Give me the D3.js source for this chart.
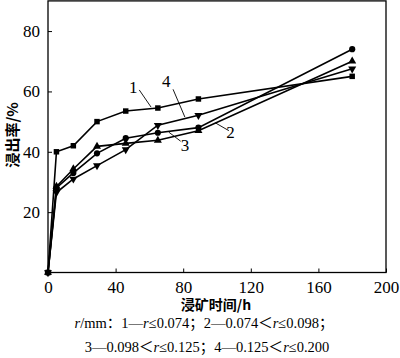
<!DOCTYPE html>
<html><head><meta charset="utf-8">
<script src="https://cdn.jsdelivr.net/npm/d3@7/dist/d3.min.js"></script>
<style>body{margin:0;background:#fff}svg{display:block}</style>
</head><body>
<svg id="c" width="400" height="358"></svg>
<script>
const times = [0, 5, 15, 29, 46, 65, 89, 180];
const series1 = [0, 40, 42, 50, 53.5, 54.5, 57.5, 65];   // squares
const series2 = [0, 28, 33, 39.5, 44.5, 46.3, 48, 74];   // circles
const series3 = [0, 28.5, 34.3, 41.8, 42.8, 43.8, 47, 70]; // triangles up
const series4 = [0, 26.5, 31, 35.4, 40.7, 48.8, 52.1, 67.5]; // triangles down
const xTicks = [0, 40, 80, 120, 160, 200];
const yTicks = [20, 40, 60, 80];
const curveLabels = ["1", "2", "3", "4"];

const svg = d3.select("#c");
const x = d3.scaleLinear().domain([0, 200]).range([48, 386]);
const y = d3.scaleLinear().domain([0, 90]).range([272.5, 0.9]);
const serif = "'Liberation Serif','Times New Roman',serif";
const cjk = "'Noto Sans CJK SC',sans-serif";

// frame
svg.append("rect").attr("x", x(0)).attr("y", y(90)).attr("width", x(200) - x(0)).attr("height", y(0) - y(90))
  .attr("fill", "none").attr("stroke", "#000").attr("stroke-width", 1.3);

// axes with inward ticks
const xAxis = d3.axisBottom(x).tickValues(xTicks).tickSize(-4).tickPadding(8).tickFormat(d3.format("d"));
const gx = svg.append("g").attr("transform", `translate(0,${y(0)})`).call(xAxis);
gx.select(".domain").remove();
gx.selectAll("line").attr("stroke", "#000").attr("stroke-width", 1);
gx.selectAll("text").attr("font-family", serif).attr("font-size", 17).attr("fill", "#000").attr("dy", "0.72em");

const yAxis = d3.axisLeft(y).tickValues(yTicks).tickSize(-4).tickPadding(8).tickFormat(d3.format("d"));
const gy = svg.append("g").attr("transform", `translate(${x(0)},0)`).call(yAxis);
gy.select(".domain").remove();
gy.selectAll("line").attr("stroke", "#000").attr("stroke-width", 1);
gy.selectAll("text").attr("font-family", serif).attr("font-size", 17).attr("fill", "#000");

// lines
const allSeries = [
  {vals: series1, sym: d3.symbolSquare, size: 30, rot: 0},
  {vals: series2, sym: d3.symbolCircle, size: 30, rot: 0},
  {vals: series3, sym: d3.symbolTriangle, size: 28, rot: 0},
  {vals: series4, sym: d3.symbolTriangle, size: 28, rot: 180},
];
const line = d3.line().x(d => x(d[0])).y(d => y(d[1]));
allSeries.forEach(s => {
  const pts = times.map((t, i) => [t, s.vals[i]]);
  svg.append("path").attr("d", line(pts)).attr("fill", "none").attr("stroke", "#000").attr("stroke-width", 1.6);
  svg.selectAll(null).data(pts).enter().append("path")
    .attr("d", d3.symbol().type(s.sym).size(s.size))
    .attr("transform", d => `translate(${x(d[0])},${y(d[1])}) rotate(${s.rot})`)
    .attr("fill", "#000");
});

// curve labels with leader lines
const labelPos = [
  {t: curveLabels[0], lx: 50.5, ly: 59.5, a: [54, 60.5], b: [61, 54.8]},
  {t: curveLabels[1], lx: 108, ly: 44.5, a: [107, 47], b: [99, 49.6]},
  {t: curveLabels[2], lx: 81, ly: 40.3, a: [78.5, 43.5], b: [71.5, 46.5]},
  {t: curveLabels[3], lx: 70, ly: 61.5, a: [74, 60.7], b: [81, 51.5]},
];
labelPos.forEach(l => {
  svg.append("text").attr("x", x(l.lx)).attr("y", y(l.ly)).attr("text-anchor", "middle")
    .attr("font-family", serif).attr("font-size", 17).text(l.t);
  svg.append("line").attr("x1", x(l.a[0])).attr("y1", y(l.a[1])).attr("x2", x(l.b[0])).attr("y2", y(l.b[1]))
    .attr("stroke", "#000").attr("stroke-width", 0.9);
});

// axis titles
svg.append("text").attr("transform", "translate(18,135) rotate(-90)").attr("text-anchor", "middle")
  .attr("font-family", cjk).attr("font-size", 15).attr("font-weight", "bold").text("浸出率/%");
svg.append("text").attr("x", 216).attr("y", 310).attr("text-anchor", "middle")
  .attr("font-family", cjk).attr("font-size", 14).attr("font-weight", "bold").text("浸矿时间/h");

// legend text
const legFont = "'Liberation Serif','Noto Sans CJK SC',serif";
const leg1 = svg.append("text").attr("x", 204).attr("y", 328).attr("text-anchor", "middle")
  .attr("font-family", legFont).attr("font-size", 14.5);
leg1.append("tspan").attr("font-style", "italic").text("r");
leg1.append("tspan").text("/mm：1—");
leg1.append("tspan").attr("font-style", "italic").text("r");
leg1.append("tspan").text("≤0.074；2—0.074＜");
leg1.append("tspan").attr("font-style", "italic").text("r");
leg1.append("tspan").text("≤0.098；");

const leg2 = svg.append("text").attr("x", 207).attr("y", 352).attr("text-anchor", "middle")
  .attr("font-family", legFont).attr("font-size", 14.5);
leg2.append("tspan").text("3—0.098＜");
leg2.append("tspan").attr("font-style", "italic").text("r");
leg2.append("tspan").text("≤0.125；4—0.125＜");
leg2.append("tspan").attr("font-style", "italic").text("r");
leg2.append("tspan").text("≤0.200");
</script>
</body></html>
